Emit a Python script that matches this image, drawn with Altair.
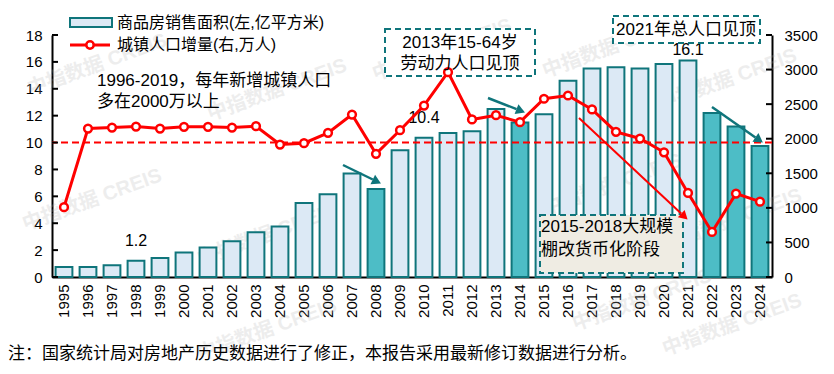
import math
import altair as alt
import pandas as pd

# ---------------- data ----------------
years = [str(y) for y in range(1995, 2025)]
sales_area = [0.75, 0.75, 0.88, 1.2, 1.42, 1.82, 2.2, 2.65, 3.32, 3.75,
              5.5, 6.15, 7.7, 6.55, 9.42, 10.35, 10.72, 10.85, 12.5, 11.5,
              12.1, 14.6, 15.5, 15.6, 15.5, 15.85, 16.1, 12.2, 11.2, 9.75]
urban_increase = [1010, 2147, 2162, 2176, 2147, 2172, 2172, 2162, 2181, 1916,
                  1935, 2085, 2350, 1781, 2123, 2480, 2963, 2278, 2340, 2239,
                  2578, 2625, 2423, 2099, 2003, 1804, 1216, 651, 1206, 1090]
highlight_years = ["2008", "2014", "2022", "2023", "2024"]
label_years = ["1998", "2010"]
label_texts = ["1.2", "10.4"]
peak_years = ["2021"]
peak_texts = ["16.1"]
left_ticks = list(range(0, 19, 2))
right_ticks = list(range(0, 3501, 500))

legend_bar = "商品房销售面积(左,亿平方米)"
legend_line = "城镇人口增量(右,万人)"
note1 = ["1996-2019，每年新增城镇人口", "多在2000万以上"]
note2 = ["2013年15-64岁", "劳动力人口见顶"]
note3 = ["2021年总人口见顶"]
note4 = ["2015-2018大规模", "棚改货币化阶段"]
footer = "注：国家统计局对房地产历史数据进行了修正，本报告采用最新修订数据进行分析。"
watermark = "中指数据 CREIS"

FONT = "Liberation Sans, Noto Sans CJK SC, sans-serif"
TEAL = "#0f757b"
RED = "#ff0000"
W, H = 720, 242

df = pd.DataFrame({
    "year": years,
    "area": sales_area,
    "pop": urban_increase,
    "hl": ["y" if y in highlight_years else "n" for y in years],
})
lab_df = pd.DataFrame({"year": label_years, "txt": label_texts}).merge(df[["year", "area"]], on="year")
peak_df = pd.DataFrame({"year": peak_years, "txt": peak_texts}).merge(df[["year", "area"]], on="year")

x_enc = alt.X("year:O", sort=years,
              scale=alt.Scale(paddingInner=0.3, paddingOuter=0.15),
              axis=alt.Axis(title=None, labelAngle=270, ticks=False, labelPadding=7,
                            labelFontSize=15, labelFont=FONT, labelColor="black",
                            domainColor="black", domainWidth=2))

left_scale = alt.Scale(domain=[0, 18], nice=False)
right_scale = alt.Scale(domain=[0, 3500], nice=False)
left_axis = alt.Axis(title=None, values=left_ticks, ticks=False, grid=False, format="d",
                     labelFontSize=15, labelFont=FONT, labelColor="black",
                     labelPadding=10, domainColor="black", domainWidth=2)
right_axis = alt.Axis(orient="right", title=None, values=right_ticks, ticks=False, grid=False,
                      format="d", labelFontSize=15, labelFont=FONT, labelColor="black",
                      labelPadding=12, domainColor="black", domainWidth=2)

# ---------------- left (bars) ----------------
bars = alt.Chart(df).mark_bar(stroke=TEAL, strokeWidth=2).encode(
    x=x_enc,
    y=alt.Y("area:Q", scale=left_scale, axis=left_axis),
    fill=alt.Fill("hl:N", scale=alt.Scale(domain=["n", "y"], range=["#dce9f5", "#4dbdc6"]), legend=None),
)
labels = alt.Chart(lab_df).mark_text(fontSize=16, font=FONT, dy=-20, color="black").encode(
    x=x_enc, y=alt.Y("area:Q", scale=left_scale, axis=left_axis), text="txt:N")
peak_label = alt.Chart(peak_df).mark_text(fontSize=16, font=FONT, dy=-11, color="black").encode(
    x=x_enc, y=alt.Y("area:Q", scale=left_scale, axis=left_axis), text="txt:N")
dash = alt.Chart(pd.DataFrame({"v": [10]})).mark_rule(color=RED, strokeDash=[7, 4], strokeWidth=2).encode(
    y=alt.Y("v:Q", scale=left_scale, axis=left_axis))
lticks = alt.Chart(pd.DataFrame({"v": left_ticks})).mark_rule(color="black", strokeWidth=2).encode(
    x=alt.value(0), x2=alt.value(6), y=alt.Y("v:Q", scale=left_scale, axis=left_axis))
left = alt.layer(bars, labels, peak_label, dash, lticks)

# ---------------- right (line) ----------------
line = alt.Chart(df).mark_line(color=RED, strokeWidth=3).encode(
    x=x_enc, y=alt.Y("pop:Q", scale=right_scale, axis=right_axis))
pts = alt.Chart(df).mark_point(shape="circle", filled=True, fill="white", stroke=RED,
                               strokeWidth=2.5, size=60, opacity=1).encode(
    x=x_enc, y=alt.Y("pop:Q", scale=right_scale, axis=right_axis))
rticks = alt.Chart(pd.DataFrame({"v": right_ticks})).mark_rule(color="black", strokeWidth=2).encode(
    x=alt.value(W - 6), x2=alt.value(W), y=alt.Y("v:Q", scale=right_scale, axis=right_axis))
right = alt.layer(line, pts, rticks)


# ---------------- annotation helpers ----------------
def txt(s, x, y, size=17, align="left", color="black", **kw):
    return alt.Chart(pd.DataFrame({"t": [s]})).mark_text(
        align=align, baseline="middle", fontSize=size, font=FONT, color=color, **kw
    ).encode(x=alt.value(x), y=alt.value(y), text="t:N")


def box(x1, y1, x2, y2, fill):
    return alt.Chart(pd.DataFrame({"a": [0]})).mark_rect(
        fill=fill, stroke=TEAL, strokeDash=[6, 4], strokeWidth=2
    ).encode(x=alt.value(x1), x2=alt.value(x2), y=alt.value(y1), y2=alt.value(y2))


def arrow(x1, y1, x2, y2, color, w, head=110):
    dx, dy = x2 - x1, y2 - y1
    L = math.hypot(dx, dy)
    ux, uy = dx / L, dy / L
    ang = (math.degrees(math.atan2(dx, -dy)) + 360) % 360
    shaft = alt.Chart(pd.DataFrame({"a": [0]})).mark_rule(color=color, strokeWidth=w).encode(
        x=alt.value(x1), y=alt.value(y1), x2=alt.value(x2 - ux * 8), y2=alt.value(y2 - uy * 8))
    tip = alt.Chart(pd.DataFrame({"a": [0]})).mark_point(
        shape="triangle", filled=True, fill=color, size=head, angle=ang, opacity=1, strokeWidth=0
    ).encode(x=alt.value(x2 - ux * 5), y=alt.value(y2 - uy * 5))
    return [shaft, tip]


# watermarks (kept inside the canvas)
wm_pos = [(45, 30), (225, 55), (560, 12), (675, 45), (40, 165), (215, 200),
          (560, 150), (680, 185), (590, 265), (215, 295), (680, 290), (390, 15)]
wms = [alt.Chart(pd.DataFrame({"t": [watermark]})).mark_text(
    fontSize=20, font=FONT, fontWeight="bold", color="#b0b0b0", opacity=0.22, angle=340
).encode(x=alt.value(px), y=alt.value(py), text="t:N") for px, py in wm_pos]

legend = [
    box(18, -17, 60, -8, "#dce9f5").mark_rect(fill="#dce9f5", stroke=TEAL, strokeWidth=2),
    txt(legend_bar, 65, -12, size=16),
    alt.Chart(pd.DataFrame({"a": [0]})).mark_rule(color=RED, strokeWidth=3).encode(
        x=alt.value(18), x2=alt.value(58), y=alt.value(10), y2=alt.value(10)),
    alt.Chart(pd.DataFrame({"a": [0]})).mark_point(shape="circle", filled=True, fill="white",
                                                   stroke=RED, strokeWidth=2.5, size=55, opacity=1).encode(
        x=alt.value(38), y=alt.value(10)),
    txt(legend_line, 65, 10, size=16),
]

annos = [
    txt(note1[0], 45, 46), txt(note1[1], 45, 67),
    txt(note2[0], 408, 8, align="center"), txt(note2[1], 408, 29, align="center"),
    txt(note3[0], 634, -5, align="center"),
    txt(note4[0], 489, 192), txt(note4[1], 489, 215),
    txt(footer, -44, 319),
]
arrows = (arrow(291, 130, 328, 148, TEAL, 2.5) + arrow(436, 63, 472, 77, TEAL, 2.5)
          + arrow(660, 72, 710, 107, TEAL, 2.5) + arrow(527, 83, 635, 184, RED, 2, head=100))

chart = alt.layer(
    *wms,
    left,
    box(488, 180, 631, 238, "#efece3"),
    box(333, -6, 483, 41, "white"),
    box(561, -19, 708, 8, "white"),
    right,
    *annos,
    *legend,
    *arrows,
).resolve_scale(y="independent").properties(
    width=W, height=H,
    autosize=alt.AutoSizeParams(type="none"),
    padding={"left": 44, "top": 27, "right": 54, "bottom": 89},
    background="white",
).configure_view(stroke=None)

chart.save("out.html", embed_options={"renderer": "svg", "actions": False})
